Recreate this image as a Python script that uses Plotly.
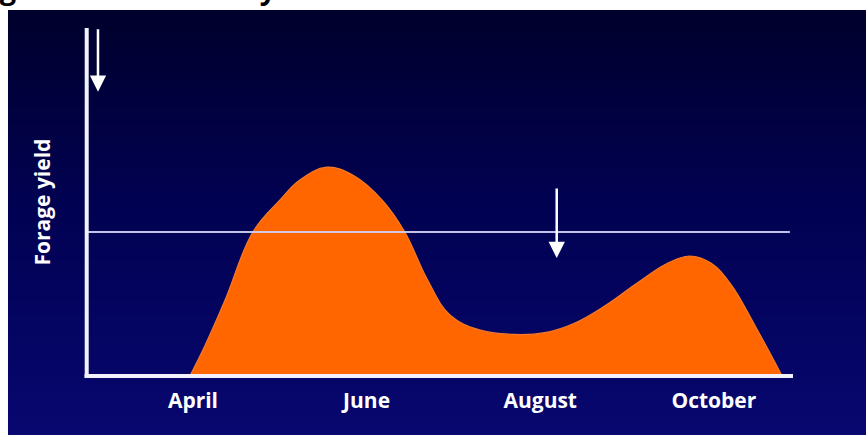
import base64
import struct
import zlib

import plotly.graph_objects as go

# Seasonal forage yield curve (month number, relative yield)
months = [3.97, 4.14, 4.37, 4.69, 5.00, 5.23, 5.54, 5.85, 6.18, 6.44, 6.70, 6.96,
          7.30, 7.70, 8.05, 8.40, 8.75, 9.10, 9.45, 9.72, 9.97, 10.20, 10.47, 10.78]
forage_yield = [0.0, 0.86, 2.16, 4.12, 5.04, 5.62, 5.99, 5.75, 5.04, 4.12, 2.75, 1.73,
                1.30, 1.17, 1.22, 1.50, 2.00, 2.62, 3.20, 3.43, 3.22, 2.60, 1.44, 0.0]

# Month labels on the horizontal axis
tick_months = [4, 6, 8, 10]
tick_labels = ["April", "June", "August", "October"]

# Constant feed requirement level
demand_level = 4.12

# Downward arrows: (month, yield at tip, length in px)
arrow_months = [2.906, 8.19]
arrow_tips = [8.16, 3.37]
arrow_lengths = [64, 71]

x_range = [2.768, 10.9]
y_range = [0, 10]

FONT = "Open Sans"


def gradient_png(stops, height=256):
    """Build a 1-pixel-wide vertical gradient PNG as a data URI."""
    rows = []
    for i in range(height):
        t = i / (height - 1)
        for (t0, c0), (t1, c1) in zip(stops[:-1], stops[1:]):
            if t0 <= t <= t1:
                f = (t - t0) / (t1 - t0) if t1 > t0 else 0
                rgb = [round(a + (b - a) * f) for a, b in zip(c0, c1)]
                break
        rows.append(b"\x00" + bytes(rgb))
    raw = b"".join(rows)

    def chunk(tag, data):
        body = tag + data
        return struct.pack(">I", len(data)) + body + struct.pack(">I", zlib.crc32(body) & 0xFFFFFFFF)

    png = (b"\x89PNG\r\n\x1a\n"
           + chunk(b"IHDR", struct.pack(">IIBBBBB", 1, height, 8, 2, 0, 0, 0))
           + chunk(b"IDAT", zlib.compress(raw, 9))
           + chunk(b"IEND", b""))
    return "data:image/png;base64," + base64.b64encode(png).decode()


panel_stops = [(0.0, (0, 0, 44)), (0.45, (1, 1, 82)), (1.0, (7, 7, 112))]

fig = go.Figure()

fig.add_trace(go.Scatter(
    x=months, y=forage_yield,
    mode="lines", line=dict(shape="spline", color="#f27a2a", width=1.2, smoothing=1.1),
    fill="tozeroy", fillcolor="#ff6600",
    hoverinfo="skip", showlegend=False,
))

panel_x0, panel_x1 = -0.1105, 1.11
panel_y0, panel_y1 = -0.175, 1.0519

images = [dict(source=gradient_png(panel_stops), xref="paper", yref="paper",
               x=panel_x0, y=panel_y1, sizex=panel_x1 - panel_x0, sizey=panel_y1 - panel_y0,
               xanchor="left", yanchor="top", sizing="stretch", layer="below")]

shapes = []

# Demand level line
shapes.append(dict(type="line", xref="paper", yref="y", x0=0.003, x1=0.997,
                   y0=demand_level, y1=demand_level,
                   line=dict(color="rgba(205,205,240,0.95)", width=2), layer="above"))

# Axis lines
shapes.append(dict(type="line", xref="paper", yref="paper", x0=0.001, x1=0.001,
                   y0=-0.009, y1=1.0, line=dict(color="#f2f2ff", width=4), layer="above"))
shapes.append(dict(type="line", xref="paper", yref="paper", x0=-0.002, x1=1.0014,
                   y0=-0.003, y1=-0.003, line=dict(color="#f2f2ff", width=4), layer="above"))

annotations = []
for xm, yt, ln in zip(arrow_months, arrow_tips, arrow_lengths):
    annotations.append(dict(x=xm, y=yt, xref="x", yref="y", text="", showarrow=True,
                            ax=0, ay=-ln, arrowhead=2, arrowsize=1.3, arrowwidth=2.5,
                            arrowcolor="white", standoff=0))

annotations.append(dict(text="<b>Forage yield</b>", xref="paper", yref="paper",
                        x=-0.0623, y=0.497, textangle=-90, showarrow=False,
                        font=dict(family=FONT, size=21, color="white"),
                        xanchor="center", yanchor="middle"))

# Figure heading above the panel
annotations.append(dict(text="<b>Figure 2. Seasonal dynamics</b>", xref="paper", yref="paper",
                        x=-0.160, y=1.055, xanchor="left", yanchor="bottom", showarrow=False,
                        font=dict(family=FONT, size=29, color="black")))

fig.update_layout(
    width=866, height=435,
    margin=dict(l=86, r=74, t=28, b=60),
    paper_bgcolor="white", plot_bgcolor="rgba(0,0,0,0)",
    shapes=shapes, annotations=annotations, images=images,
    xaxis=dict(range=x_range, tickvals=tick_months,
               ticktext=[f"<b>{t}</b>" for t in tick_labels],
               showgrid=False, zeroline=False, showline=False, ticks="",
               ticklabelstandoff=11,
               tickfont=dict(family=FONT, size=21, color="white")),
    yaxis=dict(range=y_range, showgrid=False, zeroline=False, showline=False,
               showticklabels=False, ticks=""),
)

fig.write_html("out.html")
